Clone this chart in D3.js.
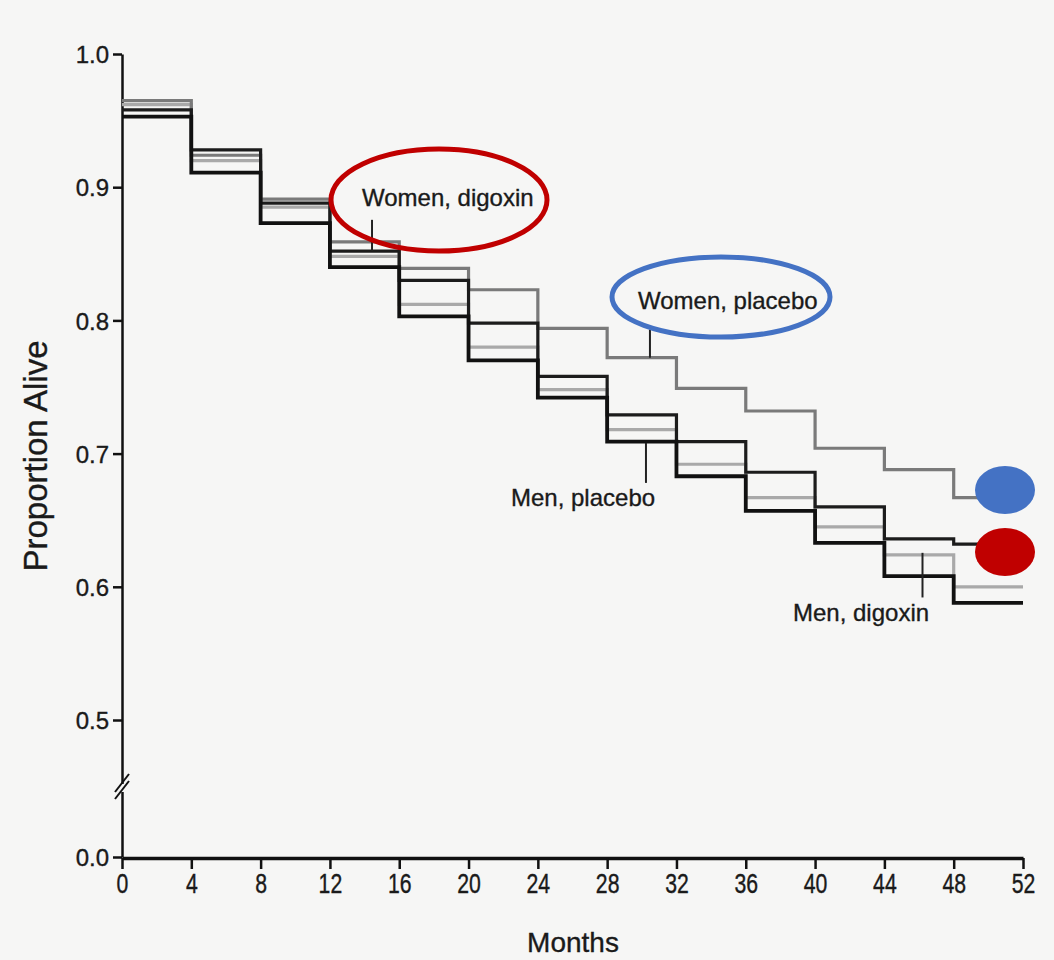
<!DOCTYPE html>
<html>
<head>
<meta charset="utf-8">
<script src="https://cdn.jsdelivr.net/npm/d3@7"></script>
<style>
  body { margin: 0; background: #f6f6f5; }
  svg { display: block; }
  text { font-family: "Liberation Sans", Arial, Helvetica, sans-serif; fill: #1a1a1a; stroke: #1a1a1a; stroke-width: 0.35px; }
</style>
</head>
<body>
<svg id="chart" width="1054" height="960"></svg>
<script>
// months at which each step starts
var months = [0, 4, 8, 12, 16, 20, 24, 28, 32, 36, 40, 44, 48];

// proportion alive
var womenPlacebo = [0.965, 0.924, 0.891, 0.859, 0.839, 0.823, 0.794, 0.772, 0.749, 0.732, 0.704, 0.688, 0.667];
var womenDigoxin = [0.958, 0.928, 0.888, 0.852, 0.830, 0.798, 0.758, 0.729, 0.709, 0.686, 0.660, 0.636, 0.632];
var menDigoxin   = [0.962, 0.920, 0.885, 0.848, 0.812, 0.780, 0.748, 0.718, 0.692, 0.667, 0.645, 0.624, 0.600];
var menPlacebo   = [0.953, 0.911, 0.873, 0.840, 0.803, 0.770, 0.742, 0.709, 0.683, 0.657, 0.633, 0.608, 0.588];

var womenEnd = 50, menEnd = 52;

var xTicks = [0, 4, 8, 12, 16, 20, 24, 28, 32, 36, 40, 44, 48, 52];
var yTicks = [0.0, 0.5, 0.6, 0.7, 0.8, 0.9, 1.0];

// label, pointer month, pointer from/to value
var labels = [
  {text: "Women, digoxin", m: 14.43, v1: 0.8755, v2: 0.852, tx: 362, ty: 206},
  {text: "Women, placebo", m: 30.47, v1: 0.793, v2: 0.772, tx: 638, ty: 309},
  {text: "Men, placebo",   m: 30.24, v1: 0.708, v2: 0.678, tx: 511, ty: 506},
  {text: "Men, digoxin",   m: 46.2,  v1: 0.6255, v2: 0.592, tx: 793, ty: 621}
];

var svg = d3.select("#chart");

var x = d3.scaleLinear().domain([0, 52]).range([122, 1023]);
// broken axis: 0.0 sits right below 0.5
var y = d3.scaleLinear().domain([0, 0.5, 1.0]).range([857, 720, 54]);

// y axis
var gy = svg.append("g").attr("transform", "translate(122,0)")
  .call(d3.axisLeft(y).tickValues(yTicks).tickFormat(d3.format(".1f")).tickSizeInner(9).tickSizeOuter(0));
gy.select(".domain").attr("stroke", "#111").attr("stroke-width", 2.5);
gy.selectAll(".tick line").attr("stroke", "#111").attr("stroke-width", 2.5);
gy.selectAll(".tick text").attr("font-size", 24).attr("x", -13).attr("dy", "0.36em")
  .style("font-family", "'Liberation Sans', Arial, sans-serif").attr("fill", "#1a1a1a");

// break marks on y axis
svg.append("rect").attr("x", 117).attr("y", 784).attr("width", 10).attr("height", 8).attr("fill", "#f6f6f5");
[0, 7].forEach(function(o){
  svg.append("line")
    .attr("x1", 115).attr("y1", 799 - o).attr("x2", 129).attr("y2", 781 - o)
    .attr("stroke", "#111").attr("stroke-width", 2);
});

// x axis
var gx = svg.append("g").attr("transform", "translate(0,858)")
  .call(d3.axisBottom(x).tickValues(xTicks).tickSizeInner(11).tickSizeOuter(0));
gx.select(".domain").attr("stroke", "#111").attr("stroke-width", 3.5);
gx.selectAll(".tick line").attr("stroke", "#111").attr("stroke-width", 2.5);
// narrow, tall digits like the scanned original
gx.selectAll(".tick text").attr("font-size", 25).attr("y", 14).attr("fill", "#1a1a1a")
  .attr("transform", "scale(0.85,1.1)");

svg.append("text").attr("x", 573).attr("y", 952).attr("text-anchor", "middle")
  .attr("font-size", 28).text("Months");
svg.append("text").attr("transform", "translate(47,456) rotate(-90)").attr("text-anchor", "middle")
  .attr("font-size", 33).text("Proportion Alive");

// step curves
var line = d3.line().curve(d3.curveStepAfter)
  .x(function(d){ return x(d[0]); })
  .y(function(d){ return y(d[1]); });

function steps(vals, end){
  var pts = months.map(function(m, i){ return [m, vals[i]]; });
  pts.push([end, vals[vals.length - 1]]);
  return pts;
}

var series = [
  {vals: menDigoxin,   end: menEnd,   color: "#a9a9a9", width: 3.2},
  {vals: womenPlacebo, end: womenEnd, color: "#7a7a7a", width: 3.2},
  {vals: womenDigoxin, end: womenEnd, color: "#1c1c1c", width: 3.2},
  {vals: menPlacebo,   end: menEnd,   color: "#111111", width: 3.8}
];

svg.selectAll(".km")
  .data(series)
 .enter().append("path")
  .attr("class", "km")
  .attr("d", function(d){ return line(steps(d.vals, d.end)); })
  .attr("fill", "none")
  .attr("stroke", function(d){ return d.color; })
  .attr("stroke-width", function(d){ return d.width; });

// labels with pointers
labels.forEach(function(l){
  svg.append("line")
    .attr("x1", x(l.m)).attr("x2", x(l.m))
    .attr("y1", y(l.v1)).attr("y2", y(l.v2))
    .attr("stroke", "#222").attr("stroke-width", 2);
  svg.append("text").attr("x", l.tx).attr("y", l.ty)
    .attr("font-size", 24).text(l.text);
});

// highlight marks
svg.append("ellipse").attr("cx", 439).attr("cy", 200).attr("rx", 108).attr("ry", 51)
  .attr("fill", "none").attr("stroke", "#c00000").attr("stroke-width", 5);
svg.append("ellipse").attr("cx", 721).attr("cy", 297).attr("rx", 109).attr("ry", 40)
  .attr("fill", "none").attr("stroke", "#4472c4").attr("stroke-width", 5);
svg.append("ellipse").attr("cx", 1005).attr("cy", 490).attr("rx", 30).attr("ry", 24).attr("fill", "#4472c4");
svg.append("ellipse").attr("cx", 1005).attr("cy", 552).attr("rx", 30).attr("ry", 24).attr("fill", "#c00000");
</script>
</body>
</html>
